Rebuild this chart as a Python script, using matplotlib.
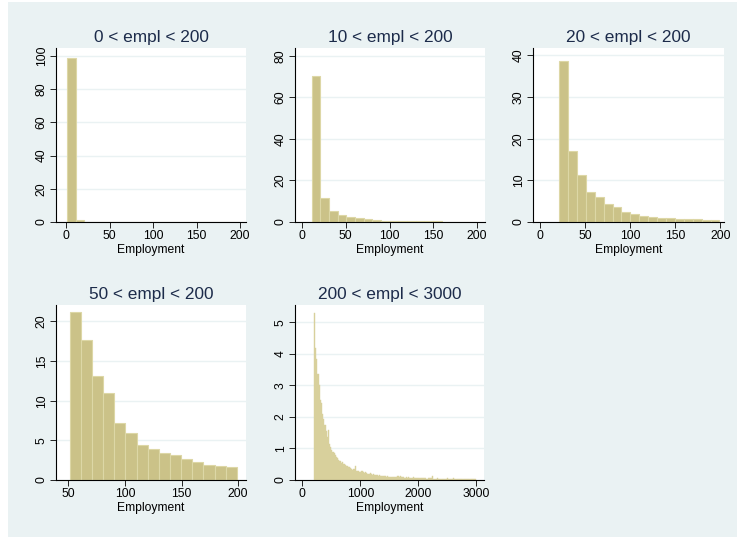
import numpy as np
import matplotlib
matplotlib.use("Agg")
import matplotlib.pyplot as plt
from matplotlib.patches import Rectangle

plt.rcParams['font.family'] = ['Liberation Sans', 'DejaVu Sans']

# percent of firms per employment bin, one list per subsample
titles = ["0 < empl < 200", "10 < empl < 200", "20 < empl < 200",
          "50 < empl < 200", "200 < empl < 3000"]
bin_range = [(1, 199), (11, 199), (21, 199), (51, 199), (200, 3000)]

pct_0_200 = [98.5, 1.05, 0.17, 0.075, 0.05, 0.035, 0.025, 0.018, 0.015, 0.011,
             0.009, 0.008, 0.006, 0.005, 0.005, 0.004, 0.003, 0.003, 0.003, 0.002]
pct_10_200 = [70.0, 11.4, 5.1, 3.4, 2.2, 1.7, 1.25, 1.05, 0.72, 0.6,
              0.47, 0.42, 0.34, 0.3, 0.27, 0.24, 0.21, 0.18, 0.15]
pct_20_200 = [38.6, 17.1, 11.3, 7.1, 6.0, 4.35, 3.6, 2.4, 1.95, 1.45,
              1.3, 1.05, 0.95, 0.8, 0.72, 0.65, 0.55, 0.48]
pct_50_200 = [21.2, 17.6, 13.1, 11.0, 7.25, 5.9, 4.4, 3.95, 3.4, 3.1,
              2.6, 2.3, 1.9, 1.8, 1.65]
pct_200_3000 = [5.3, 4.2, 3.85, 3.35, 3.0, 2.55, 2.45, 2.1, 1.95, 1.75,
                1.55, 1.35, 1.6, 1.15, 1.05, 0.95, 0.9, 0.85, 0.78, 0.72,
                0.7, 0.62, 0.6, 0.55, 0.56, 0.5, 0.52, 0.46, 0.45, 0.42,
                0.4, 0.38, 0.36, 0.33, 0.35, 0.45, 0.3, 0.28, 0.29, 0.26,
                0.25, 0.27, 0.24, 0.22, 0.25, 0.21, 0.2, 0.19, 0.22, 0.18,
                0.17, 0.18, 0.16, 0.15, 0.17, 0.14, 0.15, 0.13, 0.14, 0.12,
                0.13, 0.12, 0.11, 0.12, 0.1, 0.11, 0.1, 0.09, 0.11, 0.1,
                0.09, 0.1, 0.12, 0.09, 0.14, 0.08, 0.09, 0.08, 0.07, 0.08,
                0.07, 0.08, 0.07, 0.06, 0.07, 0.08, 0.06, 0.07, 0.06, 0.05,
                0.06, 0.06, 0.05, 0.06, 0.05, 0.07, 0.05, 0.04, 0.05, 0.06,
                0.05, 0.05, 0.12, 0.04, 0.03, 0.04, 0.05, 0.04, 0.03, 0.04,
                0.04, 0.03, 0.04, 0.03, 0.04, 0.07, 0.04, 0.03, 0.04, 0.03,
                0.05, 0.03, 0.04, 0.03, 0.03, 0.04, 0.02, 0.03, 0.04, 0.03,
                0.03, 0.02, 0.03, 0.04, 0.02, 0.03, 0.03, 0.02, 0.03, 0.04]
heights = [pct_0_200, pct_10_200, pct_20_200, pct_50_200, pct_200_3000]

yticks = [range(0, 101, 20), range(0, 81, 20), range(0, 41, 10),
          range(0, 21, 5), range(0, 6)]
xticks = [range(0, 201, 50), range(0, 201, 50), range(0, 201, 50),
          range(50, 201, 50), range(0, 3001, 1000)]
xlims = [(-12, 207), (-8, 209), (-8, 204), (39, 207), (-126, 3132)]
ylims = [(0, 104.8), (0, 83.7), (0, 41.8), (0, 22.07), (0, 5.55)]

# axes boxes in pixels: left, top, right, bottom
W, H = 737, 537
boxes = [(56, 48, 246, 222), (295, 48, 485, 222), (533, 48, 724, 222),
         (56, 305, 246, 480), (295, 305, 484, 480)]

bg = (234/255, 242/255, 243/255)
bar_fill = '#cbc288'
bar_edge = '#ddd7a6'
title_col = '#1c2b4a'

fig = plt.figure(figsize=(W/100, H/100), dpi=100, facecolor='white')
fig.add_artist(Rectangle((8/W, 0), 1 - 8/W, 1 - 2/H, transform=fig.transFigure,
                         facecolor=bg, edgecolor='none', zorder=-10))

for i in range(5):
    l, t, r, b = boxes[i]
    ax = fig.add_axes([l/W, 1 - b/H, (r - l)/W, (b - t)/H])
    ax.set_facecolor('white')
    lo, hi = bin_range[i]
    edges = np.linspace(lo, hi, len(heights[i]) + 1)
    if i == 4:
        # narrow bins: outlines blend into the fill
        ax.bar(edges[:-1], heights[i], width=np.diff(edges), align='edge',
               color='#d8d09c', edgecolor='#d8d09c', linewidth=0.3, zorder=2)
    else:
        ax.bar(edges[:-1], heights[i], width=np.diff(edges), align='edge',
               color=bar_fill, edgecolor=bar_edge, linewidth=0.8, zorder=2)
    ax.set_xlim(xlims[i])
    ax.set_ylim(ylims[i])
    ax.set_xticks(list(xticks[i]))
    ax.set_yticks(list(yticks[i]))
    ax.set_axisbelow(True)
    ax.yaxis.grid(True, color=bg, linewidth=1.0)
    for s in ['top', 'right']:
        ax.spines[s].set_visible(False)
    for s in ['left', 'bottom']:
        ax.spines[s].set_color('black')
        ax.spines[s].set_linewidth(0.8)
    ax.tick_params(axis='both', direction='out', length=4, width=0.7,
                   color='#222222', labelsize=8.7, labelcolor='black', pad=2)
    plt.setp(ax.get_yticklabels(), rotation=90, va='center')
    ax.set_title(titles[i], fontsize=12.4, color=title_col, pad=4)
    ax.set_xlabel('Employment', fontsize=8.7, labelpad=1)

fig.savefig('out.png', dpi=100, facecolor='white')
